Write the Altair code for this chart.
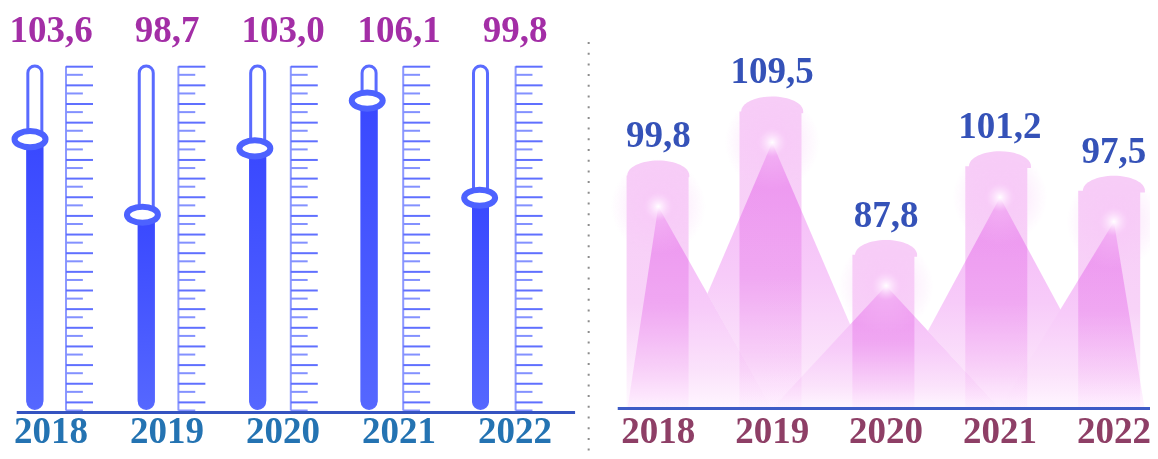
import altair as alt
import pandas as pd

# ---------------- data ----------------
YEARS = ["2018", "2019", "2020", "2021", "2022"]
LEFT_VALUES = [103.6, 98.7, 103.0, 106.1, 99.8]
RIGHT_VALUES = [99.8, 109.5, 87.8, 101.2, 97.5]

# ---------------- layout (scale domains) ----------------
W, H = 1142, 443
FONT = "Liberation Serif"
FS = 37

LX = [-0.356, 9.804]      # left panel column scale
LBLX = [-0.3707, 9.474]   # left panel label scale
RX = [-5.709, 4.317]      # right panel column scale
LY = [83.38, 112.105]     # left value scale
RY = [58.10, 125.15]      # right value scale
TY = [-3.1475, 20.606]    # graduation scale (reversed)

SLIDER_LO, SLIDER_HI = 86.14, 108.35
LEFT_AXIS = 85.87
RIGHT_BASE = 64.54
N_MARKS = 19
MOUNTAIN_SPREAD = [-1.0, 0.0, 1.0]

sx = alt.Scale(domain=LX)
slbl = alt.Scale(domain=LBLX)
srx = alt.Scale(domain=RX)
sly = alt.Scale(domain=LY)
sry = alt.Scale(domain=RY)
sty = alt.Scale(domain=TY, reverse=True)

LABEL_EXPR = "replace(format(datum.value, '.1f'), '.', ',')"

left_df = pd.DataFrame({"i": list(range(5)), "year": YEARS, "value": LEFT_VALUES})
right_df = pd.DataFrame({"j": list(range(5)), "year": YEARS, "value": RIGHT_VALUES})

tick_rows = []
for i in range(5):
    for k in range(N_MARKS):
        tick_rows.append({"i": i, "t": k, "long": 1})
        tick_rows.append({"i": i, "t": k + 0.435, "long": 0})
tick_df = pd.DataFrame(tick_rows)

mountain_rows = []
for j, v in enumerate(RIGHT_VALUES):
    for off in MOUNTAIN_SPREAD:
        mountain_rows.append({"j": j, "off": off, "value": v})
mountain_df = pd.DataFrame(mountain_rows)

left = alt.Chart(left_df).transform_calculate(
    tube="datum.i - 0.16",
    scl="datum.i + 0.16",
    lo=str(SLIDER_LO),
    hi=str(SLIDER_HI),
    t0="-0.03",
    t1="18.44",
    label=LABEL_EXPR,
)

ELLIPSE = "M-1,0A1,0.52,0,1,1,1,0A1,0.52,0,1,1,-1,0Z"
HALF = "M-1,0.06L-1,0A1,0.48,0,0,1,1,0L1,0.06Z"

fill_grad = alt.LinearGradient(
    gradient="linear",
    stops=[alt.GradientStop(color="#3948ff", offset=0),
           alt.GradientStop(color="#5567ff", offset=1)],
    x1=0, x2=0, y1=0, y2=1,
)

tube = left.mark_bar(size=14, fill="white", stroke="#5a6bff", strokeWidth=3, cornerRadius=7).encode(
    x=alt.X("tube:Q", scale=sx, axis=None),
    y=alt.Y("lo:Q", scale=sly, axis=None),
    y2="hi:Q",
)
tube_fill = left.mark_bar(size=17, fill=fill_grad, cornerRadiusBottomLeft=8.5,
                          cornerRadiusBottomRight=8.5).encode(
    x=alt.X("tube:Q", scale=sx, axis=None),
    y=alt.Y("lo:Q", scale=sly, axis=None),
    y2="value:Q",
)
knob = left.mark_point(shape=ELLIPSE, size=961, filled=True, fill="white", stroke="#4d62ff",
                       strokeWidth=6, opacity=1).encode(
    x=alt.X("tube:Q", scale=sx, axis=None),
    y=alt.Y("value:Q", scale=sly, axis=None),
)
scale_line = left.mark_rule(color="#8d99ff", strokeWidth=2).encode(
    x=alt.X("scl:Q", scale=sx, axis=None),
    y=alt.Y("t0:Q", scale=sty, axis=None),
    y2="t1:Q",
)

ticks = alt.Chart(tick_df).transform_calculate(
    x0="datum.i + 0.16",
    x1="datum.i + 0.16 + (datum.long == 1 ? 0.24 : 0.15)",
)
ticks_long = ticks.transform_filter("datum.long == 1").mark_rule(color="#6070ff", strokeWidth=2).encode(
    x=alt.X("x0:Q", scale=sx, axis=None),
    x2="x1:Q",
    y=alt.Y("t:Q", scale=sty, axis=None),
)
ticks_short = ticks.transform_filter("datum.long == 0").mark_rule(color="#8391ff", strokeWidth=2).encode(
    x=alt.X("x0:Q", scale=sx, axis=None),
    x2="x1:Q",
    y=alt.Y("t:Q", scale=sty, axis=None),
)

left_values_txt = left.mark_text(font=FONT, fontSize=FS, fontWeight="bold", color="#a32ea6",
                                 baseline="alphabetic").encode(
    x=alt.X("i:Q", scale=slbl, axis=None),
    y=alt.value(34),
    text="label:N",
)
left_years_txt = left.mark_text(font=FONT, fontSize=FS, fontWeight="bold", color="#2473b2",
                                baseline="alphabetic").encode(
    x=alt.X("i:Q", scale=slbl, axis=None),
    y=alt.value(435),
    text="year:N",
)

left_axis = alt.Chart(pd.DataFrame({"x0": [-0.278], "x1": [4.689], "y": [LEFT_AXIS]})).mark_rule(
    color="#3553c0", strokeWidth=3).encode(
    x=alt.X("x0:Q", scale=sx, axis=None),
    x2="x1:Q",
    y=alt.Y("y:Q", scale=sly, axis=None),
)
separator = alt.Chart(pd.DataFrame({"x": [4.81]})).mark_rule(
    color="#8c8c8c", strokeWidth=2, strokeDash=[2, 8.7]).encode(
    x=alt.X("x:Q", scale=sx, axis=None),
    y=alt.value(34),
    y2=alt.value(443),
)

# ---------------- right panel ----------------
right = alt.Chart(right_df).transform_calculate(
    glow="datum.value - 4.7",
    base=str(RIGHT_BASE),
    label=LABEL_EXPR,
)

bar_grad = alt.LinearGradient(
    gradient="linear",
    stops=[alt.GradientStop(color="#f7cdf7", offset=0),
           alt.GradientStop(color="#f8d3f8", offset=0.55),
           alt.GradientStop(color="#fffaff", offset=1)],
    x1=0, x2=0, y1=0, y2=1,
)
tri_grad = alt.LinearGradient(
    gradient="linear",
    stops=[alt.GradientStop(color="#f4b6f7", offset=0),
           alt.GradientStop(color="#f7cbf9", offset=0.5),
           alt.GradientStop(color="#fbe3fb", offset=0.82),
           alt.GradientStop(color="#fff6ff", offset=1)],
    x1=0, x2=0, y1=0, y2=1,
)
glow_grad = alt.RadialGradient(
    gradient="radial",
    stops=[alt.GradientStop(color="#ffffff", offset=0),
           alt.GradientStop(color="rgba(255,240,255,0.95)", offset=0.06),
           alt.GradientStop(color="rgba(248,200,248,0.45)", offset=0.3),
           alt.GradientStop(color="rgba(248,200,248,0)", offset=1)],
    x1=0.5, y1=0.5, r1=0, x2=0.5, y2=0.5, r2=0.5,
)

mountains = alt.Chart(mountain_df).transform_calculate(
    base=str(RIGHT_BASE),
    px="max(-0.27, min(4.27, datum.j + datum.off))",
    py="datum.off == 0 ? datum.value - 4.7 : " + str(RIGHT_BASE),
).mark_area(fill=tri_grad, blend="darken").encode(
    x=alt.X("px:Q", scale=srx, axis=None),
    y=alt.Y("py:Q", scale=sry, axis=None),
    y2="base:Q",
    detail="j:N",
)
bars = right.mark_bar(size=62, fill=bar_grad, blend="multiply").encode(
    x=alt.X("j:Q", scale=srx, axis=None),
    y=alt.Y("value:Q", scale=sry, axis=None),
    y2="base:Q",
)
caps = right.mark_point(shape=HALF, size=3844, filled=True, fill="#f7cdf7", opacity=1,
                        strokeWidth=0).encode(
    x=alt.X("j:Q", scale=srx, axis=None),
    y=alt.Y("value:Q", scale=sry, axis=None),
)
glows = right.mark_point(shape="circle", size=9000, filled=True, fill=glow_grad, opacity=1,
                         strokeWidth=0).encode(
    x=alt.X("j:Q", scale=srx, axis=None),
    y=alt.Y("glow:Q", scale=sry, axis=None),
)
right_values_txt = right.mark_text(font=FONT, fontSize=FS, fontWeight="bold", color="#3552b8",
                                   baseline="alphabetic", dy=-28).encode(
    x=alt.X("j:Q", scale=srx, axis=None),
    y=alt.Y("value:Q", scale=sry, axis=None),
    text="label:N",
)
right_years_txt = right.mark_text(font=FONT, fontSize=FS, fontWeight="bold", color="#8e3f66",
                                  baseline="alphabetic").encode(
    x=alt.X("j:Q", scale=srx, axis=None),
    y=alt.value(435),
    text="year:N",
)
right_axis = alt.Chart(pd.DataFrame({"x0": [-0.356], "x1": [4.317], "y": [RIGHT_BASE]})).mark_rule(
    color="#3d5bc6", strokeWidth=3).encode(
    x=alt.X("x0:Q", scale=srx, axis=None),
    x2="x1:Q",
    y=alt.Y("y:Q", scale=sry, axis=None),
)

chart = alt.layer(
    scale_line, ticks_long, ticks_short, tube, tube_fill, knob,
    left_values_txt, left_years_txt, left_axis, separator,
    mountains, bars, caps, glows, right_values_txt, right_years_txt, right_axis,
).resolve_scale(x="independent", y="independent").properties(
    width=W, height=H, autosize=alt.AutoSizeParams(type="none"), padding=0,
    background="white",
).configure_view(stroke=None)

chart.save("out.html", embed_options={"renderer": "svg", "actions": False})
